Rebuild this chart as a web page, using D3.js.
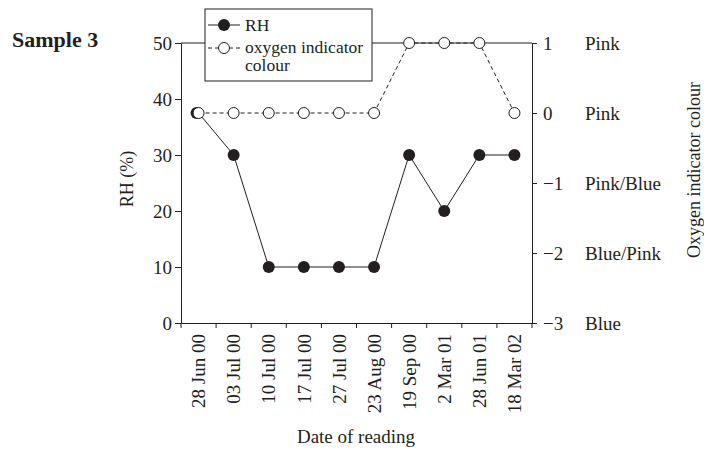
<!DOCTYPE html>
<html>
<head>
  <meta charset="utf-8">
  <title>Sample 3</title>
  <style>
    body { margin: 0; background: #fff; }
    svg text { font-family: "Liberation Serif", "Times New Roman", serif; fill: #231f20; }
  </style>
</head>
<body>
<svg width="704" height="451" class="svg-chart"></svg>
<script src="https://cdnjs.cloudflare.com/ajax/libs/d3/7.8.5/d3.min.js"></script>
<script type="text/javascript">
  var dates = ['28 Jun 00', '03 Jul 00', '10 Jul 00', '17 Jul 00', '27 Jul 00',
               '23 Aug 00', '19 Sep 00', '2 Mar 01', '28 Jun 01', '18 Mar 02']
  var rh = [37.5, 30, 10, 10, 10, 10, 30, 20, 30, 30]
  var oxygen = [0, 0, 0, 0, 0, 0, 1, 1, 1, 0]
  var rhTicks = [0, 10, 20, 30, 40, 50]
  var oxTicks = [-3, -2, -1, 0, 1]
  var oxNames = ['Blue', 'Blue/Pink', 'Pink/Blue', 'Pink', 'Pink']

  var ink = '#231f20'
  var svg = d3.select('.svg-chart')

  // plot box (note: "top" is reserved on window)
  var pLeft = 181, pRight = 532, pTop = 43, pBottom = 323

  var x = d3.scaleBand().domain(dates).range([pLeft, pRight])
  var yL = d3.scaleLinear().domain([0, 50]).range([pBottom, pTop])
  var yR = d3.scaleLinear().domain([-3, 1]).range([pBottom, pTop])

  // frame top line
  svg.append('line').attr('x1', pLeft).attr('x2', pRight).attr('y1', pTop).attr('y2', pTop)
    .attr('stroke', ink)

  // left axis
  var gl = svg.append('g').attr('transform', 'translate(' + pLeft + ',0)')
    .call(d3.axisLeft(yL).tickValues(rhTicks).tickSize(6).tickSizeOuter(0).tickPadding(3))
  gl.selectAll('text').style('font-size', '19px')
  gl.selectAll('line, path').attr('stroke', ink)

  // right axis
  var gr = svg.append('g').attr('transform', 'translate(' + pRight + ',0)')
    .call(d3.axisRight(yR).tickValues(oxTicks).tickSize(5).tickSizeOuter(0).tickPadding(6)
      .tickFormat(d3.format('d')))
  gr.selectAll('text').style('font-size', '19px')
  gr.selectAll('line, path').attr('stroke', ink)
  gr.selectAll('.tick').append('text')
    .attr('x', 53).attr('dy', '0.32em')
    .attr('fill', ink).attr('text-anchor', 'start')
    .style('font-size', '19px')
    .text(function(d, i){ return oxNames[i] })

  // bottom axis
  var gb = svg.append('g').attr('transform', 'translate(0,' + pBottom + ')')
    .call(d3.axisBottom(x).tickSize(0).tickSizeOuter(0))
  gb.selectAll('path').attr('stroke', ink)
  gb.selectAll('.tick text')
    .attr('transform', 'rotate(-90)')
    .attr('x', -11).attr('y', 0).attr('dy', '0.35em')
    .attr('text-anchor', 'end')
    .style('font-size', '19px')
  var bounds = dates.map(function(d){ return x(d) }).concat([x.range()[1]])
  gb.selectAll('.bt').data(bounds).enter().append('line')
    .attr('x1', function(d){ return d }).attr('x2', function(d){ return d })
    .attr('y1', 0).attr('y2', 5).attr('stroke', ink)

  var cx = function(d, i){ return x(dates[i]) + x.bandwidth() / 2 }

  // RH line
  svg.append('path').datum(rh)
    .attr('d', d3.line().x(cx).y(function(d){ return yL(d) }))
    .attr('fill', 'none').attr('stroke', ink).attr('stroke-width', 1)
  svg.selectAll('.rh').data(rh).enter().append('circle')
    .attr('cx', function(d, i){ return cx(d, i) - (i === 0 ? 2 : 0) })
    .attr('cy', function(d){ return yL(d) })
    .attr('r', 6).attr('fill', ink)

  // oxygen line
  svg.append('path').datum(oxygen)
    .attr('d', d3.line().x(cx).y(function(d){ return yR(d) }))
    .attr('fill', 'none').attr('stroke', ink).attr('stroke-dasharray', '4,3')
  svg.selectAll('.ox').data(oxygen).enter().append('circle')
    .attr('cx', cx)
    .attr('cy', function(d){ return yR(d) })
    .attr('r', 5.5).attr('fill', '#fff').attr('stroke', ink).attr('stroke-width', 1)

  // titles
  svg.append('text').attr('x', 12).attr('y', 47)
    .style('font-size', '22px').style('font-weight', 'bold').text('Sample 3')
  svg.append('text').attr('transform', 'translate(133,179) rotate(-90)')
    .attr('text-anchor', 'middle').style('font-size', '18px').text('RH (%)')
  svg.append('text').attr('transform', 'translate(700,170) rotate(-90)')
    .attr('text-anchor', 'middle').style('font-size', '18px')
    .text('Oxygen indicator colour')
  svg.append('text').attr('x', 356).attr('y', 443)
    .attr('text-anchor', 'middle').style('font-size', '19px').text('Date of reading')

  // legend
  var lg = svg.append('g')
  lg.append('rect').attr('x', 205).attr('y', 9).attr('width', 167).attr('height', 72)
    .attr('fill', '#fff').attr('stroke', ink)
  lg.append('line').attr('x1', 208).attr('x2', 240).attr('y1', 25).attr('y2', 25).attr('stroke', ink)
  lg.append('circle').attr('cx', 224).attr('cy', 25).attr('r', 6).attr('fill', ink)
  lg.append('text').attr('x', 245).attr('y', 31).style('font-size', '17.5px').text('RH')
  lg.append('line').attr('x1', 208).attr('x2', 240).attr('y1', 48).attr('y2', 48)
    .attr('stroke', ink).attr('stroke-dasharray', '4,3')
  lg.append('circle').attr('cx', 224).attr('cy', 48).attr('r', 5.5)
    .attr('fill', '#fff').attr('stroke', ink)
  lg.append('text').attr('x', 245).attr('y', 53).style('font-size', '17.5px').text('oxygen indicator')
  lg.append('text').attr('x', 245).attr('y', 71).style('font-size', '17.5px').text('colour')
</script>
</body>
</html>
